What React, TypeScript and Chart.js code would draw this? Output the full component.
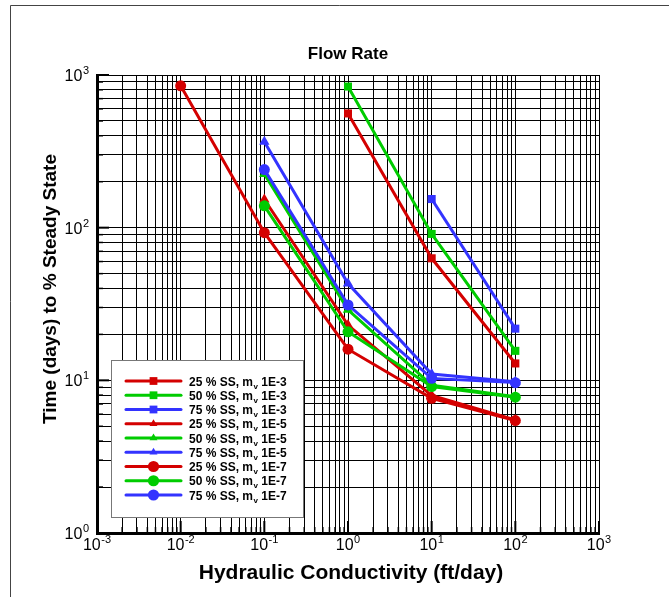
import React, { useEffect, useRef } from "react";
import { Chart, registerables } from "chart.js";

Chart.register(...registerables);

// Hydraulic conductivity (ft/day) at which each run was made
const kSquares = [1, 10, 100];
const kBlueSquares = [10, 100];
const kTriangles = [0.1, 1, 10, 100];
const kRedCircles = [0.01, 0.1, 1, 10, 100];
const kCircles = [0.1, 1, 10, 100];

// Time (days) to reach the given % of steady-state flow rate
const ss25Mv1e3 = [560, 63, 12.9];
const ss50Mv1e3 = [840, 91, 15.6];
const ss75Mv1e3 = [154, 21.8];
const ss25Mv1e5 = [153, 23, 7.95, 5.5];
const ss50Mv1e5 = [225, 29, 9.3, 7.8];
const ss75Mv1e5 = [365, 43, 11.0, 9.8];
const ss25Mv1e7 = [850, 92.7, 16.0, 7.63, 5.45];
const ss50Mv1e7 = [139, 20.8, 9.1, 7.75];
const ss75Mv1e7 = [240, 31.2, 10.3, 9.66];

const pctLevels = ["25", "50", "75"];
const mvLevels = ["1E-3", "1E-5", "1E-7"];
const xDecades = [-3, -2, -1, 0, 1, 2, 3];
const yDecades = [0, 1, 2, 3];

const chartTitle = "Flow Rate";
const xTitle = "Hydraulic Conductivity (ft/day)";
const yTitle = "Time (days) to % Steady State";

const levelColors = ["#d40000", "#00cc00", "#3333ff"];
const mvMarkers = ["rect", "triangle", "circle"];
const markerRadius: Record<string, number> = { rect: 5.7, triangle: 6, circle: 5.5 };
const legendRadius: Record<string, number> = { rect: 5.5, triangle: 4.6, circle: 5.6 };

const seriesK = [
  [kSquares, kSquares, kBlueSquares],
  [kTriangles, kTriangles, kTriangles],
  [kRedCircles, kCircles, kCircles],
];
const seriesT = [
  [ss25Mv1e3, ss50Mv1e3, ss75Mv1e3],
  [ss25Mv1e5, ss50Mv1e5, ss75Mv1e5],
  [ss25Mv1e7, ss50Mv1e7, ss75Mv1e7],
];

const FONT = "'Liberation Sans', Arial, Helvetica, sans-serif";

function logTicks(lo: number, hi: number) {
  const out: { value: number }[] = [];
  for (let e = lo; e < hi; e++) {
    for (let s = 1; s <= 9; s++) {
      out.push({ value: Number((s * Math.pow(10, e)).toPrecision(12)) });
    }
  }
  out.push({ value: Math.pow(10, hi) });
  return out;
}

function drawMarker(ctx: CanvasRenderingContext2D, style: string, x: number, y: number, r: number) {
  ctx.beginPath();
  if (style === "rect") {
    const s = r * Math.SQRT1_2;
    ctx.rect(x - s, y - s, 2 * s, 2 * s);
  } else if (style === "triangle") {
    for (let i = 0; i < 3; i++) {
      const a = (i * 2 * Math.PI) / 3;
      const px = x + Math.sin(a) * r;
      const py = y - Math.cos(a) * r;
      if (i === 0) ctx.moveTo(px, py);
      else ctx.lineTo(px, py);
    }
    ctx.closePath();
  } else {
    ctx.arc(x, y, r, 0, Math.PI * 2);
  }
  ctx.fill();
}

function drawPower(
  ctx: CanvasRenderingContext2D,
  exp: string,
  x: number,
  baseline: number,
  align: "center" | "right"
) {
  ctx.textAlign = "left";
  ctx.textBaseline = "alphabetic";
  ctx.font = `16px ${FONT}`;
  const wBase = ctx.measureText("10").width;
  ctx.font = `11px ${FONT}`;
  const wExp = ctx.measureText(exp).width;
  const total = wBase + wExp + 0.5;
  const start = align === "center" ? x - total / 2 : x - total;
  ctx.font = `16px ${FONT}`;
  ctx.fillText("10", start, baseline);
  ctx.font = `11px ${FONT}`;
  ctx.fillText(exp, start + wBase + 0.5, baseline - 7);
}

const decorations = {
  id: "decorations",
  beforeDraw(chart: any) {
    const ctx: CanvasRenderingContext2D = chart.ctx;
    ctx.save();
    ctx.fillStyle = "#ffffff";
    ctx.fillRect(0, 0, chart.width, chart.height);
    ctx.strokeStyle = "#444444";
    ctx.lineWidth = 1;
    ctx.beginPath();
    ctx.moveTo(10.5, chart.height);
    ctx.lineTo(10.5, 5.5);
    ctx.lineTo(chart.width, 5.5);
    ctx.stroke();
    ctx.restore();
  },
  beforeDatasetsDraw(chart: any) {
    const ctx: CanvasRenderingContext2D = chart.ctx;
    const { left, bottom } = chart.chartArea;
    const xs = chart.scales.x;
    const ys = chart.scales.y;
    ctx.save();
    ctx.strokeStyle = "#000";
    xs.ticks.forEach((t: any) => {
      const major = Math.abs(Math.log10(t.value) - Math.round(Math.log10(t.value))) < 1e-9;
      const px = xs.getPixelForValue(t.value);
      ctx.lineWidth = major ? 2 : 1.5;
      ctx.beginPath();
      ctx.moveTo(px, bottom);
      ctx.lineTo(px, bottom - (major ? 12 : 6));
      ctx.stroke();
    });
    ys.ticks.forEach((t: any) => {
      const major = Math.abs(Math.log10(t.value) - Math.round(Math.log10(t.value))) < 1e-9;
      const py = ys.getPixelForValue(t.value);
      ctx.lineWidth = major ? 2 : 1.5;
      ctx.beginPath();
      ctx.moveTo(left, py);
      ctx.lineTo(left + (major ? 12 : 6), py);
      ctx.stroke();
    });
    ctx.restore();
  },
  afterDraw(chart: any) {
    const ctx: CanvasRenderingContext2D = chart.ctx;
    const area = chart.chartArea;
    const xs = chart.scales.x;
    const ys = chart.scales.y;
    ctx.save();
    ctx.fillStyle = "#000";

    // tick labels as powers of ten
    xDecades.forEach((e) => {
      drawPower(ctx, String(e), xs.getPixelForValue(Math.pow(10, e)), area.bottom + 17, "center");
    });
    yDecades.forEach((e) => {
      drawPower(ctx, String(e), area.left - 8, ys.getPixelForValue(Math.pow(10, e)) + 6, "right");
    });

    // titles
    ctx.textAlign = "center";
    ctx.textBaseline = "alphabetic";
    ctx.font = `bold 17px ${FONT}`;
    ctx.fillText(chartTitle, (area.left + area.right) / 2, 59);
    ctx.font = `bold 21px ${FONT}`;
    ctx.fillText(xTitle, 351, 579);
    ctx.save();
    ctx.translate(56, 289);
    ctx.rotate(-Math.PI / 2);
    ctx.font = `bold 19px ${FONT}`;
    ctx.fillText(yTitle, 0, 0);
    ctx.restore();

    // legend box
    const bx = 111.5, by = 360.5, bw = 192, bh = 157;
    ctx.fillStyle = "#ffffff";
    ctx.fillRect(bx, by, bw, bh);
    ctx.strokeStyle = "#777777";
    ctx.lineWidth = 1;
    ctx.strokeRect(bx, by, bw, bh);

    chart.data.datasets.forEach((ds: any, i: number) => {
      const rowY = 381 + i * 14.25;
      ctx.strokeStyle = ds.borderColor;
      ctx.fillStyle = ds.borderColor;
      ctx.lineWidth = 3;
      ctx.lineCap = "round";
      ctx.beginPath();
      ctx.moveTo(126, rowY);
      ctx.lineTo(181, rowY);
      ctx.stroke();
      drawMarker(ctx, ds.pointStyle, 153.5, rowY, legendRadius[ds.pointStyle]);

      const [head, tail] = String(ds.label).split("_v");
      ctx.fillStyle = "#000";
      ctx.textAlign = "left";
      ctx.font = `bold 12px ${FONT}`;
      let tx = 189;
      ctx.fillText(head, tx, rowY + 4.5);
      tx += ctx.measureText(head).width;
      ctx.font = `bold 8px ${FONT}`;
      ctx.fillText("v", tx + 0.5, rowY + 7.5);
      tx += ctx.measureText("v").width + 0.5;
      ctx.font = `bold 12px ${FONT}`;
      ctx.fillText(tail, tx, rowY + 4.5);
    });
    ctx.restore();
  },
};

export default function App() {
  const canvasRef = useRef<HTMLCanvasElement | null>(null);

  useEffect(() => {
    const canvas = canvasRef.current;
    if (!canvas) return;

    const datasets: any[] = [];
    mvLevels.forEach((mv, m) => {
      pctLevels.forEach((pct, p) => {
        const ks = seriesK[m][p];
        const ts = seriesT[m][p];
        const style = mvMarkers[m];
        datasets.push({
          label: `${pct} % SS, m_v ${mv}`,
          data: ks.map((k, j) => ({ x: k, y: ts[j] })),
          borderColor: levelColors[p],
          backgroundColor: levelColors[p],
          borderWidth: 3,
          pointStyle: style,
          pointRadius: markerRadius[style],
          pointHoverRadius: markerRadius[style],
          pointBorderWidth: 0,
          pointBackgroundColor: levelColors[p],
          tension: 0,
        });
      });
    });
    datasets.forEach((d, i) => (d.order = datasets.length - 1 - i));

    const chart = new Chart(canvas, {
      type: "line",
      data: { datasets },
      plugins: [decorations],
      options: {
        responsive: false,
        animation: false,
        devicePixelRatio: 1,
        layout: { padding: { left: 97, top: 75, right: 70, bottom: 64 } },
        plugins: {
          legend: { display: false },
          title: { display: false },
          tooltip: { enabled: false },
        },
        scales: {
          x: {
            type: "logarithmic",
            min: 0.001,
            max: 1000,
            afterBuildTicks: (scale: any) => {
              scale.ticks = logTicks(-3, 3);
            },
            ticks: { display: false },
            grid: { color: "#000", lineWidth: 1, drawTicks: false },
            border: { display: true, color: "#000", width: 3 },
          },
          y: {
            type: "logarithmic",
            min: 1,
            max: 1000,
            afterBuildTicks: (scale: any) => {
              scale.ticks = logTicks(0, 3);
            },
            ticks: { display: false },
            grid: { color: "#000", lineWidth: 1, drawTicks: false },
            border: { display: true, color: "#000", width: 3 },
          },
        },
      },
    } as any);

    return () => chart.destroy();
  }, []);

  return (
    <div style={{ position: "fixed", left: 0, top: 0, width: 669, height: 597, background: "#fff" }}>
      <canvas ref={canvasRef} width={669} height={597} style={{ display: "block" }} />
    </div>
  );
}
